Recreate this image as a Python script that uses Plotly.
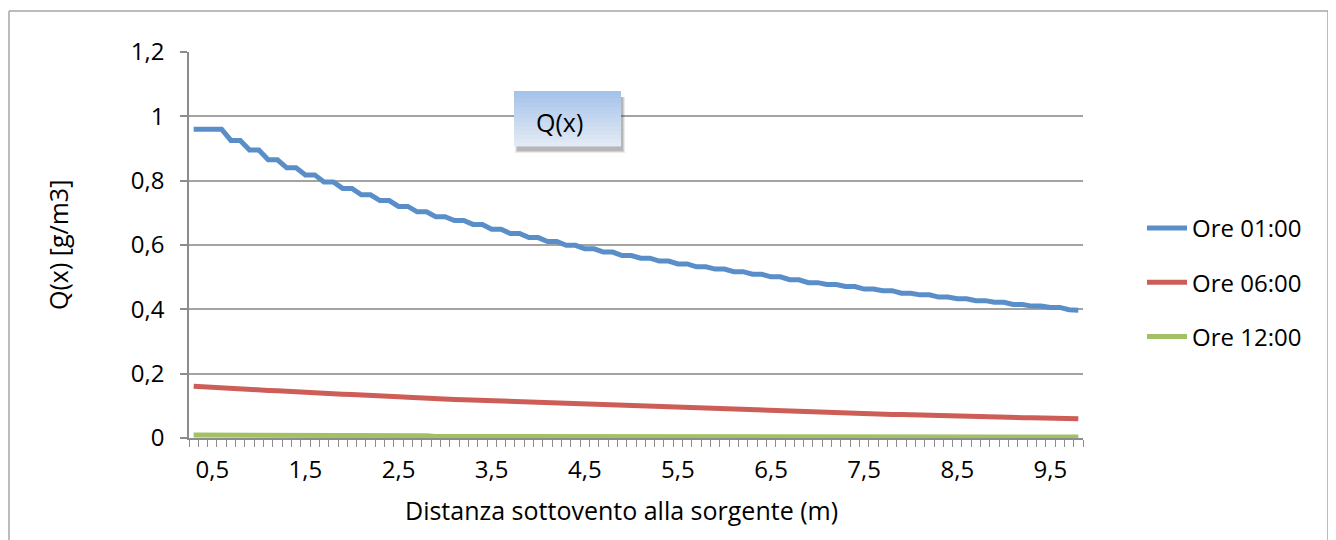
import plotly.graph_objects as go

# ---------------- data ----------------
distance_m = [0.3, 0.4, 0.5, 0.6, 0.7, 0.8, 0.9, 1.0, 1.1, 1.2, 1.3, 1.4, 1.5, 1.6, 1.7, 1.8, 1.9, 2.0,
              2.1, 2.2, 2.3, 2.4, 2.5, 2.6, 2.7, 2.8, 2.9, 3.0, 3.1, 3.2, 3.3, 3.4, 3.5, 3.6, 3.7, 3.8,
              3.9, 4.0, 4.1, 4.2, 4.3, 4.4, 4.5, 4.6, 4.7, 4.8, 4.9, 5.0, 5.1, 5.2, 5.3, 5.4, 5.5, 5.6,
              5.7, 5.8, 5.9, 6.0, 6.1, 6.2, 6.3, 6.4, 6.5, 6.6, 6.7, 6.8, 6.9, 7.0, 7.1, 7.2, 7.3, 7.4,
              7.5, 7.6, 7.7, 7.8, 7.9, 8.0, 8.1, 8.2, 8.3, 8.4, 8.5, 8.6, 8.7, 8.8, 8.9, 9.0, 9.1, 9.2,
              9.3, 9.4, 9.5, 9.6, 9.7, 9.8]

q_ore_01 = [0.960, 0.960, 0.960, 0.960, 0.925, 0.925, 0.895, 0.895, 0.865, 0.865, 0.840, 0.840,
            0.818, 0.818, 0.796, 0.796, 0.776, 0.776, 0.756, 0.756, 0.738, 0.738, 0.720, 0.720,
            0.703, 0.703, 0.688, 0.688, 0.676, 0.676, 0.664, 0.664, 0.649, 0.649, 0.636, 0.636,
            0.623, 0.623, 0.611, 0.611, 0.599, 0.599, 0.588, 0.588, 0.578, 0.578, 0.567, 0.567,
            0.559, 0.559, 0.550, 0.550, 0.541, 0.541, 0.532, 0.532, 0.525, 0.525, 0.517, 0.517,
            0.509, 0.509, 0.501, 0.501, 0.492, 0.492, 0.483, 0.483, 0.477, 0.477, 0.471, 0.471,
            0.463, 0.463, 0.458, 0.458, 0.450, 0.450, 0.445, 0.445, 0.438, 0.438, 0.433, 0.433,
            0.427, 0.427, 0.422, 0.422, 0.415, 0.415, 0.410, 0.410, 0.406, 0.406, 0.399, 0.397]

q_ore_06 = [0.161, 0.159, 0.158, 0.156, 0.154, 0.153, 0.151, 0.150, 0.148, 0.147, 0.145, 0.144,
            0.142, 0.141, 0.139, 0.138, 0.136, 0.135, 0.133, 0.132, 0.131, 0.129, 0.128, 0.127,
            0.125, 0.124, 0.123, 0.121, 0.120, 0.119, 0.118, 0.116, 0.115, 0.114, 0.113, 0.112,
            0.110, 0.109, 0.108, 0.107, 0.106, 0.105, 0.104, 0.103, 0.102, 0.101, 0.099, 0.098,
            0.097, 0.096, 0.095, 0.094, 0.093, 0.092, 0.091, 0.091, 0.090, 0.089, 0.088, 0.087,
            0.086, 0.085, 0.084, 0.083, 0.082, 0.082, 0.081, 0.080, 0.079, 0.078, 0.077, 0.077,
            0.076, 0.075, 0.074, 0.073, 0.073, 0.072, 0.071, 0.070, 0.070, 0.069, 0.068, 0.068,
            0.067, 0.066, 0.065, 0.065, 0.064, 0.063, 0.063, 0.062, 0.062, 0.061, 0.061, 0.060]

q_ore_12 = [0.009, 0.009, 0.009, 0.009, 0.009, 0.009, 0.009, 0.009, 0.009, 0.009, 0.009, 0.009,
            0.007, 0.007, 0.007, 0.007, 0.007, 0.007, 0.007, 0.007, 0.007, 0.007, 0.007, 0.007,
            0.007, 0.007, 0.005, 0.005, 0.005, 0.005, 0.005, 0.005, 0.005, 0.005, 0.005, 0.005,
            0.005, 0.005, 0.005, 0.005, 0.005, 0.005, 0.005, 0.005, 0.005, 0.005, 0.005, 0.005,
            0.004, 0.004, 0.004, 0.004, 0.004, 0.004, 0.004, 0.004, 0.004, 0.004, 0.004, 0.004,
            0.004, 0.004, 0.004, 0.004, 0.004, 0.004, 0.004, 0.004, 0.004, 0.004, 0.004, 0.004,
            0.004, 0.004, 0.004, 0.004, 0.003, 0.003, 0.003, 0.003, 0.003, 0.003, 0.003, 0.003,
            0.003, 0.003, 0.003, 0.003, 0.003, 0.003, 0.003, 0.003, 0.003, 0.003, 0.003, 0.003]

series_names = ["Ore 01:00", "Ore 06:00", "Ore 12:00"]
series_colors = ["#5a8ec9", "#cd5e57", "#a2c163"]

x_tick_vals = [0.5, 1.5, 2.5, 3.5, 4.5, 5.5, 6.5, 7.5, 8.5, 9.5]
y_tick_vals = [0, 0.2, 0.4, 0.6, 0.8, 1.0, 1.2]

chart_title = "Q(x)"
x_title = "Distanza sottovento alla sorgente (m)"
y_title = "Q(x) [g/m3]"

# ---------------- layout geometry ----------------
# page body has an 8px margin: screen coordinates are converted to figure coordinates
OFF = 8
W, H = 1336 - OFF, 540 - OFF
PL, PR, PT, PB = 189, 1083, 52, 438  # plot area in screen pixels


def px(xs):
    return (xs - PL) / (PR - PL)


def py(ys):
    return (PB - ys) / (PB - PT)


FONT = "Open Sans"
FS = 24       # tick labels / legend
FS_T = 25     # titles
GRID = "#a3a3a3"

fig = go.Figure()
for vals, name, col in zip([q_ore_01, q_ore_06, q_ore_12], series_names, series_colors):
    fig.add_trace(go.Scatter(x=distance_m, y=vals, mode="lines", name=name,
                             legendgroup=name,
                             line=dict(color=col, width=5)))

shapes = []
# outer chart border
shapes.append(dict(type="line", xref="paper", yref="paper", x0=px(9), x1=px(9), y0=py(11), y1=py(545),
                   line=dict(color="#a6a6a6", width=1.5), layer="below"))
shapes.append(dict(type="line", xref="paper", yref="paper", x0=px(9), x1=px(1328), y0=py(11), y1=py(11),
                   line=dict(color="#a6a6a6", width=1.5), layer="below"))
shapes.append(dict(type="line", xref="paper", yref="paper", x0=px(1328), x1=px(1328), y0=py(11), y1=py(545),
                   line=dict(color="#a6a6a6", width=1.5), layer="below"))

# title box: shadow + gradient stripes
bx0, bx1, by0, by1 = 514, 621, 91, 146
for i, op in enumerate([0.10, 0.14, 0.18]):
    shapes.append(dict(type="rect", xref="paper", yref="paper",
                       x0=px(bx0 + 1 + i), x1=px(bx1 + 4 - i), y0=py(by0 + 6), y1=py(by1 + 7 - i),
                       fillcolor=f"rgba(60,60,60,{op})", line=dict(width=0), layer="above"))
n_str = 14
top_rgb = (166, 195, 234)
bot_rgb = (226, 234, 246)
for i in range(n_str):
    t = i / (n_str - 1)
    c = tuple(int(round(top_rgb[k] + (bot_rgb[k] - top_rgb[k]) * t)) for k in range(3))
    y0 = by0 + (by1 - by0) * i / n_str
    y1 = by0 + (by1 - by0) * (i + 1) / n_str
    shapes.append(dict(type="rect", xref="paper", yref="paper",
                       x0=px(bx0), x1=px(bx1), y0=py(y0), y1=py(y1 + 0.5),
                       fillcolor=f"rgb{c}", line=dict(width=0), layer="above"))

annotations = [
    dict(text=chart_title, xref="paper", yref="paper", x=px(559), y=py(122),
         xanchor="center", yanchor="middle", showarrow=False,
         font=dict(family=FONT, size=FS_T, color="#000000")),
    dict(text=x_title, xref="paper", yref="paper", x=px(621), y=py(510),
         xanchor="center", yanchor="middle", showarrow=False,
         font=dict(family=FONT, size=FS_T, color="#000000")),
    dict(text=y_title, xref="paper", yref="paper", x=px(58), y=py(245),
         xanchor="center", yanchor="middle", showarrow=False, textangle=-90,
         font=dict(family=FONT, size=FS_T, color="#000000")),
]

fig.update_layout(
    width=W, height=H,
    margin=dict(l=PL - OFF, r=W - (PR - OFF), t=PT - OFF, b=H - (PB - OFF), pad=0),
    paper_bgcolor="white", plot_bgcolor="white",
    separators=",.",
    font=dict(family=FONT, size=FS, color="#000000"),
    showlegend=True,
    legend=dict(x=px(1142), y=py(206), xanchor="left", yanchor="top",
                tracegroupgap=20, font=dict(family=FONT, size=FS),
                bgcolor="rgba(0,0,0,0)", itemwidth=40),
    shapes=shapes,
    annotations=annotations,
    xaxis=dict(range=[0.25, 9.85], tickmode="array", tickvals=x_tick_vals,
               showgrid=False, zeroline=False, showline=True, linecolor="#8c8c8c", linewidth=1.5,
               ticks="", ticklabelstandoff=9,
               minor=dict(tick0=0.25, dtick=0.1, ticks="outside", ticklen=7,
                          tickcolor="#8c8c8c", tickwidth=1, showgrid=False),
               tickfont=dict(family=FONT, size=FS)),
    yaxis=dict(range=[0, 1.2], tickmode="array", tickvals=y_tick_vals,
               showgrid=True, gridcolor=GRID, gridwidth=1.5, zeroline=False,
               showline=True, linecolor="#8c8c8c", linewidth=1.5,
               ticks="outside", ticklen=7, tickcolor="#8c8c8c", tickwidth=1.5,
               ticklabelstandoff=11,
               tickfont=dict(family=FONT, size=FS)),
)

fig.write_html("out.html")
